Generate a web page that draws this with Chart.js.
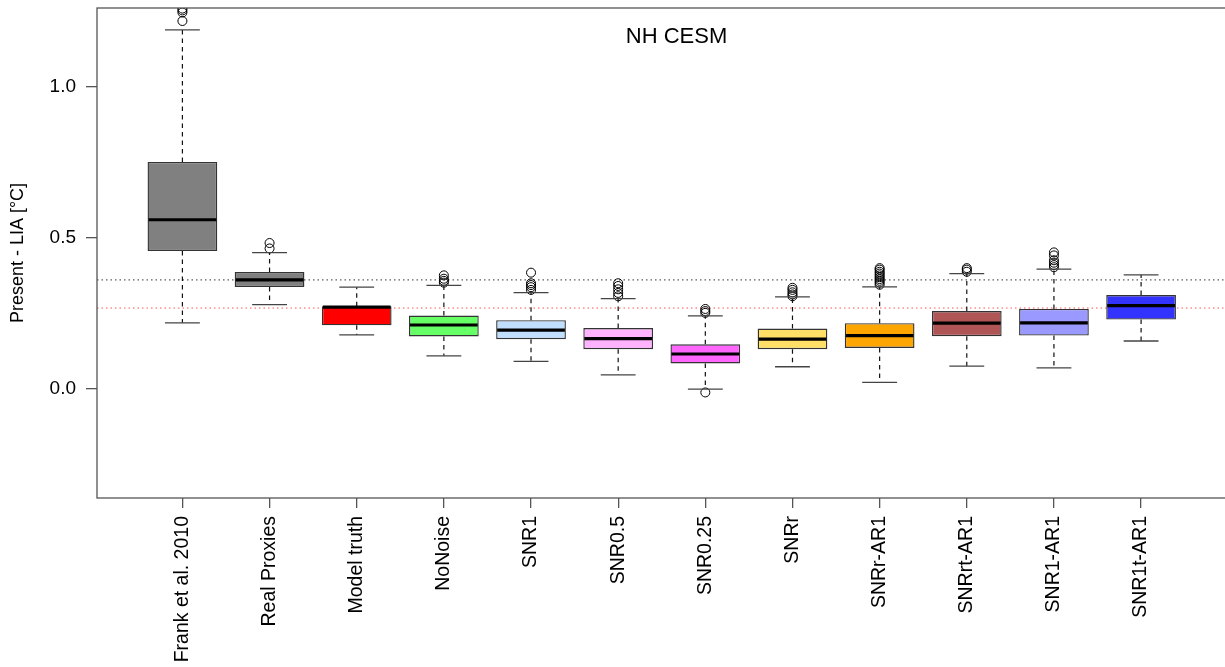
<!DOCTYPE html>
<html>
<head>
<meta charset="utf-8">
<title>NH CESM</title>
<script src="https://cdn.jsdelivr.net/npm/chart.js@4/dist/chart.umd.min.js"></script>
<style>
    html, body { margin: 0; padding: 0; background: #fff; overflow: hidden; }
    #wrap { width: 1232px; height: 667px; }
</style>
</head>
<body>
<div id="wrap"><canvas id="box-chart" width="1232" height="667"></canvas></div>
<script>
// values
const categories = ['Frank et al. 2010', 'Real Proxies', 'Model truth', 'NoNoise', 'SNR1', 'SNR0.5',
    'SNR0.25', 'SNRr', 'SNRr-AR1', 'SNRrt-AR1', 'SNR1-AR1', 'SNR1t-AR1'];
const whiskerLow  = [0.219, 0.279, 0.179, 0.110, 0.092, 0.047, 0.000, 0.074, 0.022, 0.076, 0.070, 0.159];
const q1          = [0.457, 0.338, 0.211, 0.174, 0.165, 0.132, 0.085, 0.132, 0.136, 0.175, 0.177, 0.230];
const medians     = [0.560, 0.361, 0.271, 0.212, 0.195, 0.167, 0.116, 0.165, 0.177, 0.218, 0.219, 0.276];
const q3          = [0.751, 0.387, 0.274, 0.243, 0.228, 0.202, 0.148, 0.200, 0.218, 0.258, 0.265, 0.311];
const whiskerHigh = [1.188, 0.451, 0.337, 0.343, 0.319, 0.299, 0.242, 0.305, 0.338, 0.382, 0.397, 0.378];
const outliers = [
    [1.217, 1.245, 1.252, 1.258],
    [0.465, 0.483],
    [],
    [0.352, 0.358, 0.365, 0.376],
    [0.328, 0.337, 0.344, 0.350, 0.385],
    [0.307, 0.318, 0.330, 0.341, 0.350],
    [-0.011, 0.252, 0.258, 0.265],
    [0.307, 0.313, 0.320, 0.328, 0.335],
    [0.345, 0.352, 0.358, 0.364, 0.370, 0.376, 0.382, 0.388, 0.395, 0.400],
    [0.388, 0.395, 0.400],
    [0.403, 0.410, 0.418, 0.426, 0.442, 0.452],
    []
];
const boxColors = ['#808080', '#808080', '#ff0000', '#66ff66', '#c0dfff', '#ffb3ff',
    '#ff66ff', '#ffdf66', '#ffa500', '#b05555', '#9999ff', '#3333ff'];
const yTicks = [0, 0.5, 1.0];
const realProxyLine = 0.361;
const modelTruthLine = 0.268;
const titleText = 'NH CESM';

Chart.defaults.font.family = "'Liberation Sans', Arial, sans-serif";
Chart.defaults.color = '#000';

const boxData = categories.map((c, i) => ({ x: i + 1, y: [q1[i], q3[i]] }));
const outlierData = [];
outliers.forEach((list, i) => {
    list.forEach(v => outlierData.push({ x: i + 1, y: v }));
});

// draws frame, reference lines, whiskers, medians and the panel title
const boxplotPlugin = {
    id: 'boxplotExtras',
    beforeDatasetsDraw(chart) {
        const { ctx, chartArea, scales: { y } } = chart;
        ctx.save();
        ctx.lineWidth = 1;
        ctx.setLineDash([1.5, 3]);
        [[realProxyLine, '#333'], [modelTruthLine, '#ff5555']].forEach(([v, col]) => {
            const py = y.getPixelForValue(v);
            ctx.strokeStyle = col;
            ctx.beginPath();
            ctx.moveTo(chartArea.left, py);
            ctx.lineTo(chartArea.right, py);
            ctx.stroke();
        });
        ctx.restore();
    },
    afterDatasetsDraw(chart) {
        const { ctx, chartArea, scales: { x, y } } = chart;
        const bars = chart.getDatasetMeta(0).data;
        ctx.save();
        categories.forEach((c, i) => {
            const bar = bars[i];
            const cx = x.getPixelForValue(i + 1);
            const half = bar.width / 2;
            // whiskers
            ctx.strokeStyle = '#111';
            ctx.lineWidth = 1.2;
            ctx.setLineDash([4.5, 4]);
            ctx.beginPath();
            ctx.moveTo(cx, y.getPixelForValue(q3[i]));
            ctx.lineTo(cx, y.getPixelForValue(whiskerHigh[i]));
            ctx.moveTo(cx, y.getPixelForValue(q1[i]));
            ctx.lineTo(cx, y.getPixelForValue(whiskerLow[i]));
            ctx.stroke();
            // staples
            ctx.setLineDash([]);
            ctx.strokeStyle = '#444';
            ctx.lineWidth = 1.3;
            ctx.beginPath();
            [whiskerHigh[i], whiskerLow[i]].forEach(v => {
                const py = y.getPixelForValue(v);
                ctx.moveTo(cx - half / 2, py);
                ctx.lineTo(cx + half / 2, py);
            });
            ctx.stroke();
            // median
            ctx.strokeStyle = '#000';
            ctx.lineWidth = 3.2;
            ctx.beginPath();
            const my = y.getPixelForValue(medians[i]);
            ctx.moveTo(cx - half + 1, my);
            ctx.lineTo(cx + half - 1, my);
            ctx.stroke();
        });
        // frame
        ctx.strokeStyle = '#555';
        ctx.lineWidth = 1.3;
        ctx.strokeRect(chartArea.left, chartArea.top, chartArea.right - chartArea.left, chartArea.bottom - chartArea.top);
        // panel title inside the plot
        ctx.fillStyle = '#000';
        ctx.font = "22px 'Liberation Sans', Arial, sans-serif";
        ctx.textAlign = 'center';
        ctx.textBaseline = 'middle';
        ctx.fillText(titleText, x.getPixelForValue(6.67), y.getPixelForValue(1.163));
        ctx.restore();
    }
};

const ctx = document.getElementById('box-chart').getContext('2d');
const boxChart = new Chart(ctx, {
    type: 'bar',
    data: {
        datasets: [
            {
                label: 'box',
                data: boxData,
                backgroundColor: boxColors,
                borderColor: '#333',
                borderWidth: 1.4,
                borderSkipped: false,
                categoryPercentage: 1,
                barPercentage: 0.8,
                order: 2
            },
            {
                type: 'scatter',
                label: 'outliers',
                data: outlierData,
                pointStyle: 'circle',
                pointRadius: 4.5,
                borderColor: '#000',
                borderWidth: 1,
                backgroundColor: 'rgba(0,0,0,0)',
                order: 1
            }
        ]
    },
    options: {
        responsive: false,
        animation: false,
        devicePixelRatio: 1,
        layout: { padding: { top: 8, right: 4.4, left: 0, bottom: 0 } },
        plugins: {
            legend: { display: false },
            tooltip: { enabled: false }
        },
        scales: {
            x: {
                type: 'linear',
                offset: false,
                min: 0.02,
                max: 12.98,
                afterBuildTicks: function(scale) {
                    scale.ticks = categories.map((c, i) => ({ value: i + 1 }));
                },
                afterFit: function(scale) {
                    scale.height = 169;
                    scale.paddingLeft = 0;
                    scale.paddingRight = 0;
                },
                ticks: {
                    autoSkip: false,
                    minRotation: 90,
                    maxRotation: 90,
                    padding: 8,
                    font: { size: 19.5 },
                    callback: function(value) { return categories[value - 1]; }
                },
                grid: { display: true, offset: false, drawOnChartArea: false, drawTicks: true, tickLength: 10, color: '#555', lineWidth: 1.3 },
                border: { display: false }
            },
            y: {
                min: -0.36,
                max: 1.26,
                afterBuildTicks: function(scale) {
                    scale.ticks = yTicks.map(v => ({ value: v }));
                },
                afterFit: function(scale) {
                    scale.width = 97;
                    scale.paddingTop = 0;
                    scale.paddingBottom = 0;
                },
                ticks: {
                    padding: 10,
                    font: { size: 19 },
                    callback: function(value) { return Number(value).toFixed(1); }
                },
                grid: { display: true, drawOnChartArea: false, drawTicks: true, tickLength: 11, color: '#555', lineWidth: 1.3 },
                border: { display: false },
                title: {
                    display: true,
                    text: 'Present - LIA [°C]',
                    font: { size: 18 },
                    padding: { top: 7, bottom: 0 }
                }
            }
        }
    },
    plugins: [boxplotPlugin]
});
</script>
</body>
</html>
